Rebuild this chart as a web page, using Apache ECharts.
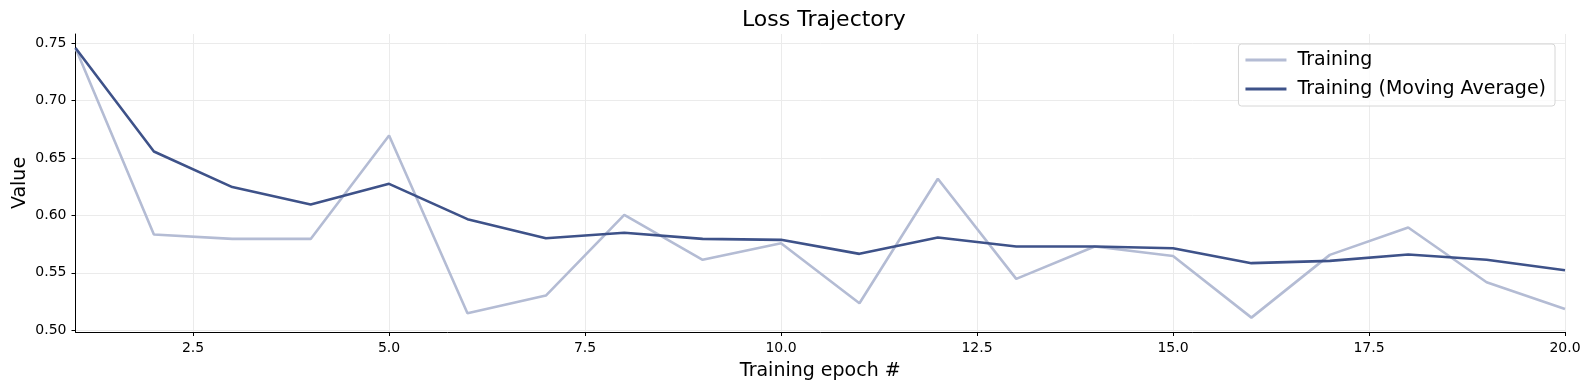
<!DOCTYPE html>
<html>
<head>
<meta charset="utf-8">
<script src="https://cdn.jsdelivr.net/npm/echarts@6/dist/echarts.min.js"></script>
<style>
html,body{margin:0;padding:0;background:#fff;}
#chart{width:1589px;height:390px;}
</style>
</head>
<body>
<div id="chart"></div>
<script>
const epochs = [1,2,3,4,5,6,7,8,9,10,11,12,13,14,15,16,17,18,19,20];
const training = [0.7456,0.5833,0.5795,0.5795,0.6695,0.5148,0.5302,0.6004,0.5613,0.5758,0.5235,0.6318,0.5447,0.5729,0.5647,0.5110,0.5656,0.5894,0.5418,0.5186];
const trainingMA = [0.7456,0.6556,0.6246,0.6094,0.6274,0.5967,0.5801,0.5848,0.5795,0.5787,0.5665,0.5807,0.5729,0.5729,0.5714,0.5584,0.5604,0.5659,0.5613,0.5523];
const xTicks = [2.5,5.0,7.5,10.0,12.5,15.0,17.5,20.0];
const yTicks = [0.50,0.55,0.60,0.65,0.70,0.75];

const FONT = 'DejaVu Sans';
const chart = echarts.init(document.getElementById('chart'));
chart.setOption({
  animation: false,
  backgroundColor: '#ffffff',
  textStyle: {fontFamily: FONT},
  title: {
    text: 'Loss Trajectory',
    left: 737, top: 4,
    textStyle: {fontFamily: FONT, fontSize: 22, fontWeight: 'normal', color: '#000'}
  },
  legend: {
    orient: 'vertical',
    right: 34, top: 44,
    padding: [6, 9, 7, 7],
    icon: 'rect',
    itemWidth: 41, itemHeight: 3, itemGap: 9,
    backgroundColor: 'rgba(255,255,255,0.8)',
    borderColor: '#d6d6d6', borderWidth: 1, borderRadius: 3,
    textStyle: {fontFamily: FONT, fontSize: 19, color: '#000', lineHeight: 20, padding: [0,0,0,6]},
    data: ['Training', 'Training (Moving Average)']
  },
  grid: {left: 75.5, right: 24, top: 34, bottom: 58, containLabel: false, outerBoundsMode: 'none'},
  xAxis: {
    type: 'value', min: 1, max: 20,
    name: 'Training epoch #', nameLocation: 'middle', nameGap: 30, nameMoveOverlap: false,
    nameTextStyle: {fontFamily: FONT, fontSize: 19, color: '#000'},
    axisLine: {show: true, onZero: false, lineStyle: {color: '#000', width: 1}},
    axisTick: {show: true, length: 4, lineStyle: {color: '#000'}, customValues: xTicks},
    axisLabel: {fontFamily: FONT, fontSize: 14, color: '#000', margin: 9, customValues: xTicks,
      formatter: v => v.toFixed(1)},
    splitLine: {show: true, lineStyle: {color: '#ebebeb', width: 1}}
  },
  yAxis: {
    type: 'value', min: 0.4985, max: 0.7578,
    name: 'Value', nameLocation: 'middle', nameGap: 46, nameMoveOverlap: false,
    nameTextStyle: {fontFamily: FONT, fontSize: 19, color: '#000'},
    axisLine: {show: true, lineStyle: {color: '#000', width: 1}},
    axisTick: {show: true, length: 4, lineStyle: {color: '#000'}, customValues: yTicks},
    axisLabel: {fontFamily: FONT, fontSize: 14, color: '#000', margin: 9, customValues: yTicks,
      formatter: v => v.toFixed(2)},
    splitLine: {show: true, lineStyle: {color: '#ebebeb', width: 1}}
  },
  series: [
    {
      name: 'Training', type: 'line', symbol: 'none',
      data: epochs.map((e, i) => [e, training[i]]),
      lineStyle: {color: '#b4bcd4', width: 2.6},
      itemStyle: {color: '#b4bcd4'},
      z: 2
    },
    {
      name: 'Training (Moving Average)', type: 'line', symbol: 'none',
      data: epochs.map((e, i) => [e, trainingMA[i]]),
      lineStyle: {color: '#3e5289', width: 2.6},
      itemStyle: {color: '#3e5289'},
      z: 3
    }
  ]
});
</script>
</body>
</html>
